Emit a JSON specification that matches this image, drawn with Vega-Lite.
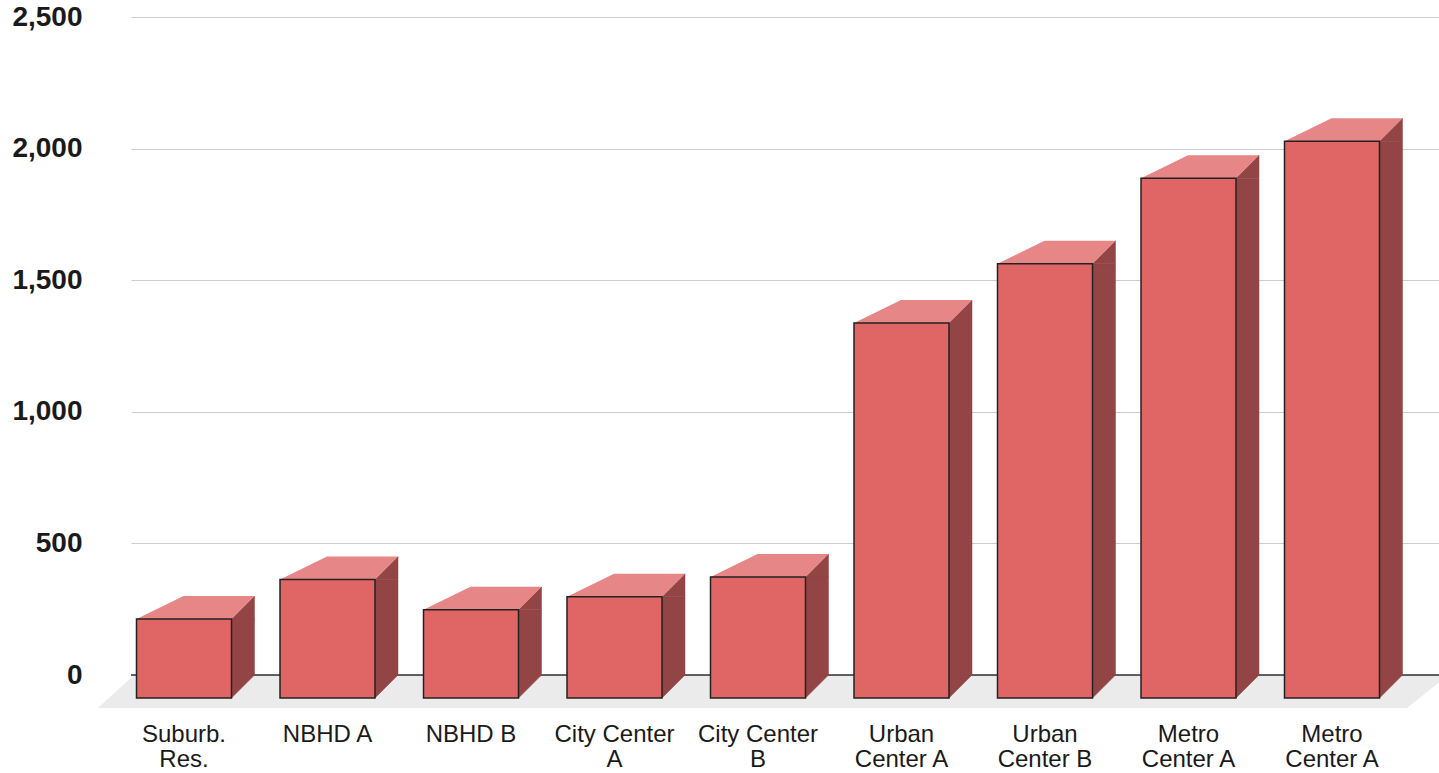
{
  "$schema": "https://vega.github.io/schema/vega-lite/v6.json",
  "autosize": "none",
  "padding": {"left": 131, "top": 17, "right": 0, "bottom": 98},
  "width": 1308,
  "height": 658,
  "background": "#ffffff",
  "config": {
    "view": {"stroke": null},
    "font": "Liberation Sans"
  },
  "data": {
    "values": [
      {"slot": 1, "site": ["Suburb.", "Res."], "value": 300},
      {"slot": 2, "site": ["NBHD A"], "value": 450},
      {"slot": 3, "site": ["NBHD B"], "value": 335},
      {"slot": 4, "site": ["City Center", "A"], "value": 385},
      {"slot": 5, "site": ["City Center", "B"], "value": 460},
      {"slot": 6, "site": ["Urban", "Center A"], "value": 1425},
      {"slot": 7, "site": ["Urban", "Center B"], "value": 1650},
      {"slot": 8, "site": ["Metro", "Center A"], "value": 1975},
      {"slot": 9, "site": ["Metro", "Center A"], "value": 2115}
    ]
  },
  "resolve": {"scale": {"y": "shared", "x": "shared"}},
  "layer": [
    {
      "data": {"values": [{"part": "floor"}]},
      "mark": {
        "type": "point",
        "filled": true,
        "opacity": 1,
        "size": 4,
        "color": "#ebebeb",
        "strokeWidth": 0,
        "shape": "M -652 1 L 662 1 L 622 33 L -687 33 Z"
      },
      "encoding": {
        "y": {"datum": 0, "type": "quantitative", "title": null}
      }
    },
    {
      "data": {"values": [{"part": "baseline"}]},
      "mark": {"type": "rule", "color": "#333333", "strokeWidth": 1.3},
      "encoding": {
        "y": {"datum": 0, "type": "quantitative", "title": null}
      }
    },
    {
      "mark": {
        "type": "bar",
        "width": 23,
        "xOffset": 36,
        "yOffset": 23,
        "color": "#934444",
        "stroke": "#934444",
        "strokeWidth": 0.5
      },
      "encoding": {
        "x": {
          "field": "slot",
          "type": "ordinal",
          "axis": null,
          "scale": {"paddingInner": 0.338, "paddingOuter": 0.2265, "align": 0.4385}
        },
        "y": {
          "field": "value",
          "type": "quantitative",
          "title": null,
          "scale": {"domain": [0, 2500], "nice": false, "zero": true},
          "axis": {
            "values": [0, 500, 1000, 1500, 2000, 2500],
            "format": ",.0f",
            "domain": false,
            "ticks": false,
            "grid": true,
            "gridColor": "#cccccc",
            "gridWidth": 1.2,
            "labelFont": "Liberation Sans",
            "labelFontSize": 28,
            "labelFontWeight": "bold",
            "labelColor": "#1a1a1a",
            "labelPadding": 49,
            "labelFlush": false,
            "labelBaseline": "middle"
          }
        },
        "y2": {"datum": 0}
      }
    },
    {
      "mark": {
        "type": "point",
        "filled": true,
        "opacity": 1,
        "size": 4,
        "color": "#934444",
        "stroke": "#934444",
        "strokeWidth": 0.5,
        "shape": "M 24.5 23 L 47.5 0 L 47.5 23 Z"
      },
      "encoding": {
        "x": {"field": "slot", "type": "ordinal", "axis": null},
        "y": {"field": "value", "type": "quantitative", "title": null}
      }
    },
    {
      "mark": {
        "type": "point",
        "filled": true,
        "opacity": 1,
        "size": 4,
        "color": "#934444",
        "stroke": "#934444",
        "strokeWidth": 0.5,
        "shape": "M 24.5 0 L 47.5 0 L 24.5 23 Z"
      },
      "encoding": {
        "x": {"field": "slot", "type": "ordinal", "axis": null},
        "y": {"datum": 0, "type": "quantitative", "title": null}
      }
    },
    {
      "mark": {
        "type": "point",
        "filled": true,
        "opacity": 1,
        "size": 4,
        "color": "#e68686",
        "strokeWidth": 0,
        "shape": "M -70.5 23 L 24.5 23 L 47.5 0 L -23.5 0 Z"
      },
      "encoding": {
        "x": {"field": "slot", "type": "ordinal", "axis": null},
        "y": {"field": "value", "type": "quantitative", "title": null}
      }
    },
    {
      "mark": {
        "type": "bar",
        "xOffset": -23,
        "yOffset": 23,
        "y2Offset": 23,
        "color": "#e06666",
        "stroke": "#222222",
        "strokeWidth": 1.5
      },
      "encoding": {
        "x": {"field": "slot", "type": "ordinal", "axis": null},
        "y": {"field": "value", "type": "quantitative", "title": null},
        "y2": {"datum": 0}
      }
    },
    {
      "mark": {
        "type": "text",
        "xOffset": -23,
        "yOffset": 48,
        "baseline": "top",
        "align": "center",
        "font": "Liberation Sans",
        "fontSize": 24,
        "lineHeight": 25,
        "color": "#1a1a1a"
      },
      "encoding": {
        "x": {"field": "slot", "type": "ordinal", "axis": null},
        "y": {"datum": 0, "type": "quantitative", "title": null},
        "text": {"field": "site"}
      }
    }
  ]
}
